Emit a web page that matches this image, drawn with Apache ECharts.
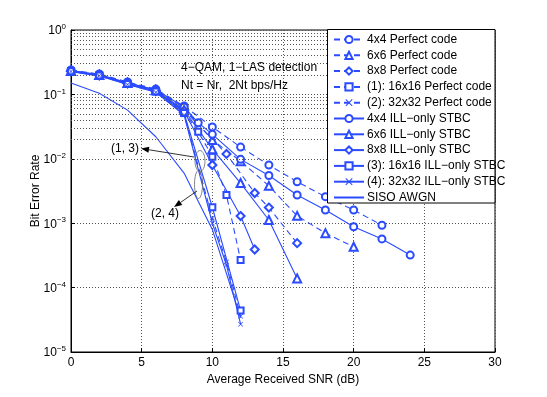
<!DOCTYPE html>
<html>
<head>
<meta charset="UTF-8">
<title>BER vs SNR</title>
<script src="https://cdn.jsdelivr.net/npm/echarts@6/dist/echarts.min.js"></script>
<style>
  body { margin: 0; background: #fff; }
  #chart { width: 547px; height: 397px; }
</style>
</head>
<body>
<div id="chart"></div>
<script>
// values
const snr4Perf = [0, 2, 4, 6, 8, 10, 12, 14, 16, 18, 20, 22];
const ber4Perf = [0.239, 0.207, 0.156, 0.121, 0.066, 0.0312, 0.0152, 0.0080, 0.0044, 0.00258, 0.0016, 0.00093];
const snr6Perf = [0, 2, 4, 6, 8, 10, 12, 14, 16, 18, 20];
const ber6Perf = [0.231, 0.200, 0.150, 0.117, 0.0615, 0.0196, 0.0092, 0.0038, 0.0013, 0.0007, 0.00043];
const snr8Perf = [0, 2, 4, 6, 8, 11, 13, 14, 16];
const ber8Perf = [0.229, 0.198, 0.148, 0.114, 0.0573, 0.0119, 0.00294, 0.00175, 0.00049];
const snr16Perf = [0, 2, 4, 6, 8, 9, 10, 11, 12];
const ber16Perf = [0.228, 0.196, 0.146, 0.112, 0.0533, 0.0264, 0.0108, 0.00274, 0.000268];
const snr32Perf = [0, 2, 4, 6, 8, 10, 11, 12];
const ber32Perf = [0.226, 0.195, 0.143, 0.109, 0.0496, 0.0012, 0.00025, 0.000036];

const snr4Ill = [0, 2, 4, 6, 8, 9, 10, 12, 14, 16, 18, 20, 22, 24];
const ber4Ill = [0.235, 0.203, 0.152, 0.118, 0.0637, 0.0364, 0.024, 0.0098, 0.0055, 0.00274, 0.0016, 0.00088, 0.00057, 0.00032];
const snr6Ill = [0, 2, 4, 6, 8, 10, 12, 14, 16];
const ber6Ill = [0.232, 0.200, 0.150, 0.116, 0.0573, 0.0141, 0.0042, 0.00112, 0.000139];
const snr8Ill = [0, 2, 4, 6, 8, 10, 12, 13];
const ber8Ill = [0.230, 0.198, 0.148, 0.113, 0.0552, 0.0080, 0.00129, 0.00039];
const snr16Ill = [0, 2, 4, 6, 8, 10, 12];
const ber16Ill = [0.228, 0.196, 0.145, 0.111, 0.0514, 0.00177, 0.000044];
const snr32Ill = [0, 2, 4, 6, 8, 10, 11, 12];
const ber32Ill = [0.226, 0.194, 0.143, 0.108, 0.0479, 0.0010, 0.000224, 0.000027];

const snrSiso = [0, 2, 4, 6, 8, 10, 12];
const berSiso = [0.150, 0.104, 0.057, 0.022, 0.006, 0.0008, 0.000034];

const xTicks = [0, 5, 10, 15, 20, 25, 30];
const legendNames = [
  '4x4 Perfect code', '6x6 Perfect code', '8x8 Perfect code',
  '(1): 16x16 Perfect code', '(2): 32x32 Perfect code',
  '4x4 ILL\u2212only STBC', '6x6 ILL\u2212only STBC', '8x8 ILL\u2212only STBC',
  '(3): 16x16 ILL\u2212only STBC', '(4): 32x32 ILL\u2212only STBC', 'SISO AWGN'
];

const BLUE = '#2b4bff';
const FONT = '"Liberation Sans", Arial, Helvetica, sans-serif';
const STAR = 'path://M0,1L1,0L5,4L9,0L10,1L6,5L10,9L9,10L5,6L1,10L0,9L4,5Z';

function pairs(xs, ys) {
  return xs.map((x, i) => [x, ys[i]]);
}

function curve(name, xs, ys, symbol, dashed, size) {
  return {
    name: name,
    type: 'line',
    data: pairs(xs, ys),
    symbol: symbol,
    symbolSize: size || 7,
    showSymbol: symbol !== 'none',
    color: BLUE,
    itemStyle: { color: BLUE, borderWidth: 1 },
    lineStyle: { color: BLUE, width: 1.1, type: dashed ? [6, 4] : 'solid' },
    emphasis: { disabled: true },
    z: 3
  };
}

// dotted minor grid for the log axis (2..9 in every decade)
const minorGrid = [];
for (let e = -5; e < 0; e++) {
  for (let m = 2; m <= 9; m++) minorGrid.push(m * Math.pow(10, e));
}

const chart = echarts.init(document.getElementById('chart'), null, { renderer: 'canvas' });

const dotted = { color: '#555', width: 1, type: [1, 2] };

const legendData = legendNames.map(n => n === 'SISO AWGN'
  ? { name: n, itemStyle: { opacity: 0 } }
  : { name: n });

const option = {
  animation: false,
  backgroundColor: '#fff',
  textStyle: { fontFamily: FONT },
  grid: { left: 71, right: 52, top: 30, bottom: 45, show: true, borderColor: '#000', borderWidth: 1, backgroundColor: 'transparent' },
  xAxis: {
    type: 'value', min: 0, max: 30, interval: 5,
    name: 'Average Received SNR (dB)', nameLocation: 'middle', nameGap: 16,
    nameTextStyle: { color: '#000', fontSize: 12, fontFamily: FONT },
    axisLine: { show: true, lineStyle: { color: '#000' } },
    axisTick: { inside: true, length: 4, lineStyle: { color: '#000' } },
    axisLabel: { color: '#000', fontSize: 12, margin: 5, fontFamily: FONT,
      formatter: v => xTicks.indexOf(v) >= 0 ? String(v) : '' },
    splitLine: { show: true, lineStyle: dotted }
  },
  yAxis: {
    type: 'log', logBase: 10, min: 1e-5, max: 1,
    name: 'Bit Error Rate', nameLocation: 'middle', nameGap: 29, nameRotate: 90,
    nameMoveOverlap: false,
    nameTextStyle: { color: '#000', fontSize: 12, fontFamily: FONT },
    axisLine: { show: true, lineStyle: { color: '#000' } },
    axisTick: { inside: true, length: 4, lineStyle: { color: '#000' } },
    axisLabel: {
      margin: 5,
      formatter: v => '{b|10}{s|' + String(Math.round(Math.log10(v))).replace('-', '\u2212') + '}',
      rich: {
        b: { fontSize: 12, color: '#000', fontFamily: FONT, verticalAlign: 'bottom', lineHeight: 14 },
        s: { fontSize: 8, color: '#000', fontFamily: FONT, verticalAlign: 'top', lineHeight: 14, padding: [0, 0, 6, 0] }
      }
    },
    splitLine: { show: true, lineStyle: dotted }
  },
  legend: {
    data: legendData,
    orient: 'vertical',
    left: 333, top: 33.5,
    padding: 0,
    itemWidth: 30, itemHeight: 9, itemGap: 3.8,
    textStyle: { color: '#000', fontSize: 12, lineHeight: 12, fontFamily: FONT, padding: [0, 0, 0, -2] },
    selectedMode: false,
    z: 7
  },
  series: [
    {
      name: 'minor-grid', type: 'line', data: [], silent: true,
      markLine: {
        silent: true, symbol: 'none', animation: false,
        label: { show: false },
        lineStyle: dotted,
        data: minorGrid.map(v => ({ yAxis: v }))
      }
    },
    curve(legendNames[0], snr4Perf, ber4Perf, 'emptyCircle', true, 7),
    curve(legendNames[1], snr6Perf, ber6Perf, 'emptyTriangle', true, 8),
    curve(legendNames[2], snr8Perf, ber8Perf, 'emptyDiamond', true, 8),
    curve(legendNames[3], snr16Perf, ber16Perf, 'emptyRect', true, 6),
    curve(legendNames[4], snr32Perf, ber32Perf, STAR, true, 5),
    curve(legendNames[5], snr4Ill, ber4Ill, 'emptyCircle', false, 7),
    curve(legendNames[6], snr6Ill, ber6Ill, 'emptyTriangle', false, 8),
    curve(legendNames[7], snr8Ill, ber8Ill, 'emptyDiamond', false, 8),
    curve(legendNames[8], snr16Ill, ber16Ill, 'emptyRect', false, 6),
    curve(legendNames[9], snr32Ill, ber32Ill, STAR, false, 5),
    curve(legendNames[10], snrSiso, berSiso, 'none', false)
  ]
};

chart.setOption(option);

// annotations: legend box, text, ellipses and arrows
function arrow(x1, y1, x2, y2) {
  const dx = x2 - x1, dy = y2 - y1;
  const len = Math.sqrt(dx * dx + dy * dy);
  const ux = dx / len, uy = dy / len;
  const hl = 8, hw = 3;
  const bx = x2 - ux * hl, by = y2 - uy * hl;
  return [
    { type: 'line', shape: { x1: x1, y1: y1, x2: bx, y2: by }, style: { stroke: '#000', lineWidth: 0.8 }, z: 10 },
    { type: 'polygon', shape: { points: [[x2, y2], [bx - uy * hw, by + ux * hw], [bx + uy * hw, by - ux * hw]] },
      style: { fill: '#000' }, z: 10 }
  ];
}

const ann = [
  { type: 'rect', shape: { x: 327.5, y: 29.5, width: 167.5, height: 173.5 },
    style: { fill: '#fff', stroke: '#000', lineWidth: 1 }, z: 5 },
  { type: 'text', left: 181, top: 62, z: 10,
    style: { text: '4\u2212QAM, 1\u2212LAS detection', fill: '#000', font: '12px ' + FONT } },
  { type: 'text', left: 181, top: 80, z: 10,
    style: { text: 'Nt = Nr,  2Nt bps/Hz', fill: '#000', font: '12px ' + FONT } },
  { type: 'text', left: 111, top: 143, z: 10,
    style: { text: '(1, 3)', fill: '#000', font: '12px ' + FONT } },
  { type: 'text', left: 151, top: 208, z: 10,
    style: { text: '(2, 4)', fill: '#000', font: '12px ' + FONT } },
  { type: 'ellipse', shape: { cx: 200, cy: 161, rx: 5, ry: 10.5 },
    style: { fill: 'none', stroke: '#666', lineWidth: 0.8 }, z: 10 },
  { type: 'ellipse', shape: { cx: 198.5, cy: 184.5, rx: 4, ry: 14 },
    style: { fill: 'none', stroke: '#666', lineWidth: 0.8 }, z: 10 }
].concat(arrow(194, 157, 141, 148.5), arrow(197, 191, 174, 207));

chart.setOption({ graphic: ann });
</script>
</body>
</html>
